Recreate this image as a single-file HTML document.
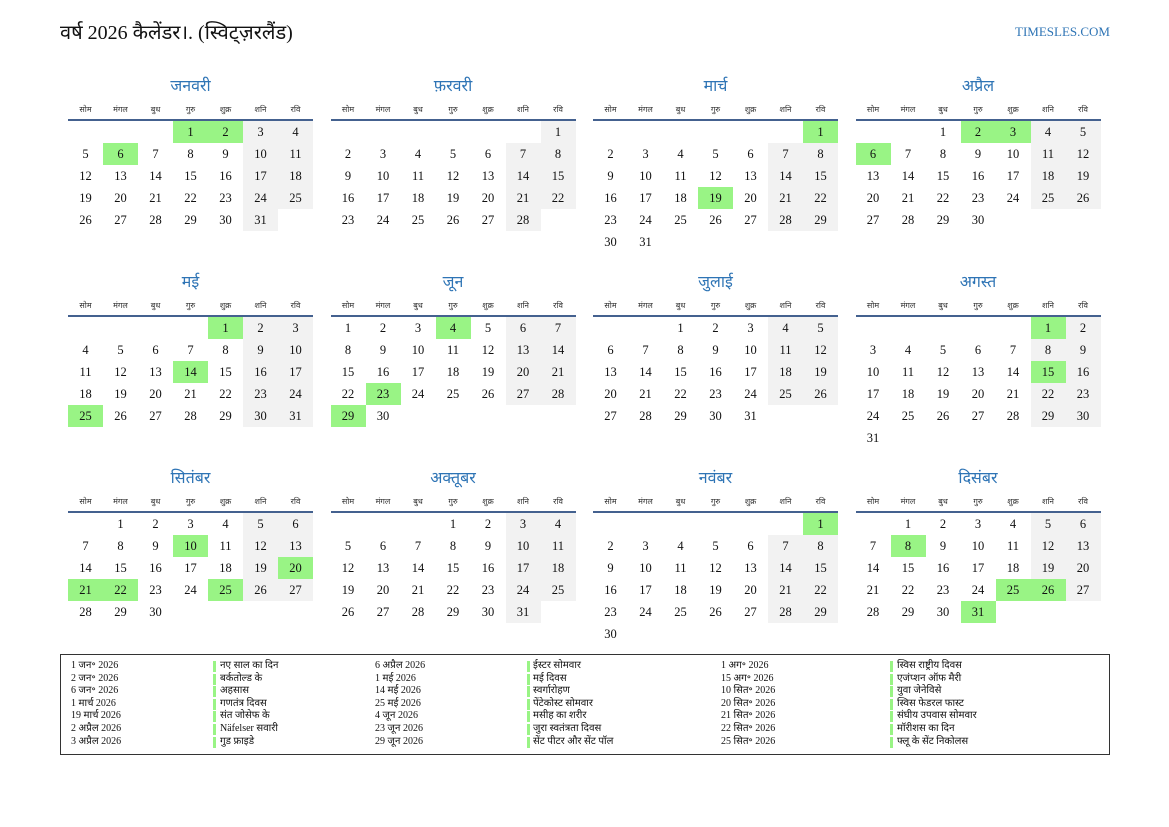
<!DOCTYPE html>
<html><head><meta charset="utf-8"><style>
body{margin:0;width:1169px;height:827px;background:#fff;position:relative;overflow:hidden;font-family:"Liberation Serif","Noto Serif CJK SC","Noto Sans CJK SC",serif;color:#111}
.a{position:absolute}
.t{font-size:20px;left:60px;top:18px}
.s{font-size:13px;color:#2e74b5;right:59px;top:24px}
.mt{width:245px;text-align:center;font-size:16px;color:#2e74b5}
.wh{width:35px;text-align:center;font-size:8px;color:#333}
.ln{width:245px;height:2px;background:#44618f}
.c{width:35px;height:22px;line-height:22px;text-align:center;font-size:12.5px}
.g{background:#f2f2f2}.h{background:#99f485}
.box{left:60px;top:654px;width:1048px;height:99px;border:1.5px solid #333}
.lg{font-size:10px;line-height:12.6px;white-space:nowrap}
.bar{width:3px;height:11px;background:#99f485}
</style></head><body>
<div class="a t">वर्ष 2026 कैलेंडर।. (स्विट्ज़रलैंड)</div>
<div class="a s">TIMESLES.COM</div>
<div class="a box"></div>
<div id="r"></div>
<script>
var names=["जनवरी","फ़रवरी","मार्च","अप्रैल","मई","जून","जुलाई","अगस्त","सितंबर","अक्तूबर","नवंबर","दिसंबर"];
var wd=["सोम","मंगल","बुध","गुरु","शुक्र","शनि","रवि"];
var st=[3,6,6,2,4,0,2,5,1,3,6,1],len=[31,28,31,30,31,30,31,31,30,31,30,31];
var hol={0:[1,2,6],2:[1,19],3:[2,3,6],4:[1,14,25],5:[4,23,29],7:[1,15],8:[10,20,21,22,25],10:[1],11:[8,25,26,31]};
var xs=[68,330.5,593,855.5],h="";
for(var m=0;m<12;m++){var x=xs[m%4],y0=Math.floor(m/4)*196;
h+='<div class="a mt" style="left:'+x+'px;top:'+(y0+74)+'px">'+names[m]+'</div>';
for(var i=0;i<7;i++)h+='<div class="a wh" style="left:'+(x+i*35)+'px;top:'+(y0+104)+'px">'+wd[i]+'</div>';
h+='<div class="a ln" style="left:'+x+'px;top:'+(y0+119)+'px"></div>';
for(var d=1;d<=len[m];d++){var p=st[m]+d-1,c=p%7,r=Math.floor(p/7);
var cl=(hol[m]&&hol[m].indexOf(d)>=0)?' h':(c>=5?' g':'');
h+='<div class="a c'+cl+'" style="left:'+(x+c*35)+'px;top:'+(y0+121+r*22)+'px">'+d+'</div>';}}
var L=[["1 जन॰ 2026","नए साल का दिन","6 अप्रैल 2026","ईस्टर सोमवार","1 अग॰ 2026","स्विस राष्ट्रीय दिवस"],
["2 जन॰ 2026","बर्कतोल्ड के","1 मई 2026","मई दिवस","15 अग॰ 2026","एजंप्शन ऑफ मैरी"],
["6 जन॰ 2026","अहसास","14 मई 2026","स्वर्गारोहण","10 सित॰ 2026","युवा जेनेविसे"],
["1 मार्च 2026","गणतंत्र दिवस","25 मई 2026","पेंटेकोस्ट सोमवार","20 सित॰ 2026","स्विस फेडरल फास्ट"],
["19 मार्च 2026","संत जोसेफ के","4 जून 2026","मसीह का शरीर","21 सित॰ 2026","संघीय उपवास सोमवार"],
["2 अप्रैल 2026","Näfelser सवारी","23 जून 2026","जुरा स्वतंत्रता दिवस","22 सित॰ 2026","मॉरीशस का दिन"],
["3 अप्रैल 2026","गुड फ्राइडे","29 जून 2026","सेंट पीटर और सेंट पॉल","25 सित॰ 2026","फ्लू के सेंट निकोलस"]];
var lx=[71,220,375,533,721,897],bx=[213,527,890];
for(var r=0;r<7;r++){var y=660+r*12.6;for(var k=0;k<6;k++)h+='<div class="a lg" style="left:'+lx[k]+'px;top:'+y+'px">'+L[r][k]+'</div>';
for(var k=0;k<3;k++)h+='<div class="a bar" style="left:'+bx[k]+'px;top:'+(y+1)+'px"></div>';}
document.getElementById("r").innerHTML=h;
</script>
</body></html>
